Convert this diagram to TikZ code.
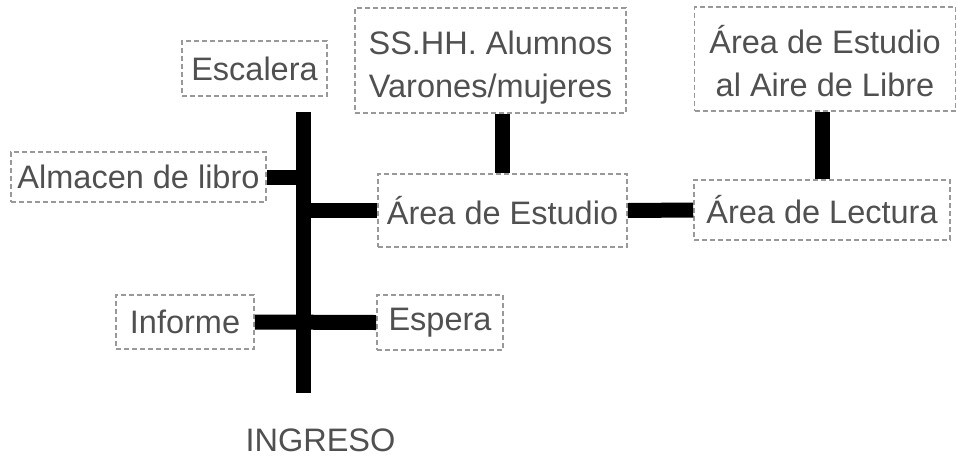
\documentclass[tikz,border=0pt]{standalone}
\usepackage{fontspec}
\setmainfont{Liberation Sans}
\definecolor{txt}{HTML}{505050}
\definecolor{dash}{HTML}{999999}
\newcommand{\twolines}[2]{\raisebox{-7pt}[\height][\depth]{\begin{tabular}{@{}c@{}}#1\\#2\end{tabular}}}
\begin{document}
\begin{tikzpicture}[x=1pt,y=-1pt,
  box/.style={draw=dash,dash pattern=on 5pt off 3pt,line width=1.6pt,
    text=txt,inner sep=0pt,font=\fontsize{32.5}{43}\selectfont,align=center},
  bar/.style={line width=15pt,black,line cap=butt}]
\useasboundingbox (0,0) rectangle (957,464);
\node[box,minimum width=145,minimum height=55] (esc) at (254.5,68.5) {Escalera};
\node[box,minimum width=255,minimum height=50] (alm) at (138.5,177) {Almacen de libro};
\node[box,minimum width=249,minimum height=73] (est) at (502.5,210.5) {Área de Estudio};
\node[box,minimum width=271,minimum height=105] (ss) at (490.5,60.5) {\twolines{SS.HH. Alumnos}{Varones/mujeres}};
\node[box,minimum width=261,minimum height=104] (aire) at (825,59) {\twolines{Área de Estudio}{al Aire de Libre}};
\node[box,minimum width=256,minimum height=60] (lec) at (822,210) {Área de Lectura};
\node[box,minimum width=138,minimum height=54] (inf) at (185,322) {Informe};
\node[box,minimum width=126,minimum height=55] (esp) at (440,322.5) {Espera};
\node[text=txt,inner sep=0pt,font=\fontsize{32.5}{43}\selectfont] (ing) at (320.5,440) {INGRESO};
\coordinate (ttop) at (303.5,112);
\coordinate (tbot) at (303.5,393);
\draw[bar] (ttop) -- (tbot);
\draw[bar] (alm.east) -- (alm.east -| ttop);
\draw[bar] (est.west) -- (est.west -| ttop);
\draw[bar] (inf.east) -- (esp.west);
\draw[bar] (est.north) -- (est.north |- ss.south);
\draw[bar] (est.east) -- (lec.west);
\draw[bar] (lec.north) -- (lec.north |- aire.south);
\end{tikzpicture}
\end{document}
